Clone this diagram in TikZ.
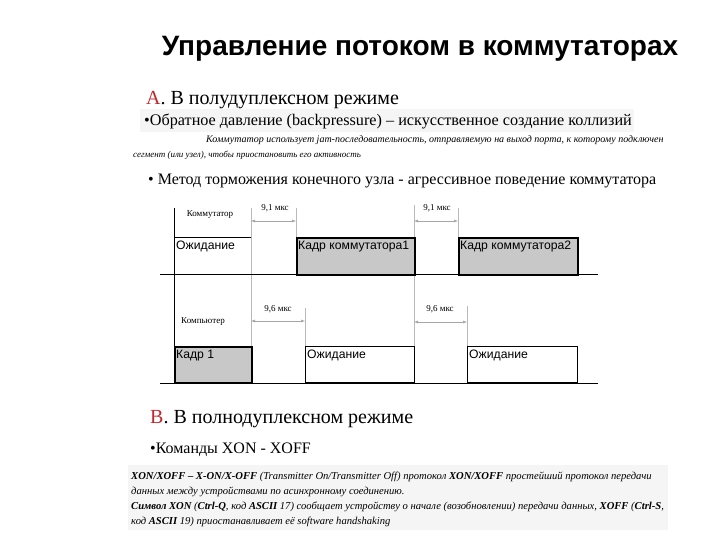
\documentclass[tikz,border=0pt]{standalone}
\usepackage{fontspec}
\setmainfont{Liberation Serif}
\setsansfont{Liberation Sans}
\usetikzlibrary{arrows.meta}
\definecolor{letterred}{RGB}{192,40,45}
\definecolor{framegray}{RGB}{200,200,200}
\definecolor{hilite}{RGB}{245,245,245}
\begin{document}
\begin{tikzpicture}[x=1pt,y=-1pt,
  txt/.style={anchor=base west, inner sep=0pt},
  frm/.style={draw, line width=1.6pt, fill=framegray, anchor=north west, inner sep=0pt},
  waitbox/.style={draw, line width=0.8pt, fill=white, anchor=north west, inner sep=0pt},
  boxlabel/.style={anchor=north west, inner xsep=2pt, inner ysep=0pt, yshift=-4pt, font=\sffamily\fontsize{12.2}{14}\selectfont},
  tickline/.style={draw=gray!55, line width=0.6pt},
  axisline/.style={draw=black, line width=1pt},
  dimarrow/.style={{Latex[length=4pt,width=3pt]}-{Latex[length=4pt,width=3pt]}, draw=gray!70, line width=0.5pt},
  dimlabel/.style={anchor=base, inner sep=0pt, font=\fontsize{9}{10}\selectfont},
  smallit/.style={anchor=base west, inner sep=0pt, font=\itshape\fontsize{9}{10}\selectfont},
  botit/.style={anchor=base west, inner sep=0pt, font=\itshape\fontsize{10.6}{12}\selectfont}]
\useasboundingbox (0,0) rectangle (720,540);

% title
\node[anchor=base, inner sep=0pt, font=\sffamily\bfseries\fontsize{28}{32}\selectfont] (title) at (420,56) {Управление потоком в коммутаторах};

% section A
\node[txt, font=\fontsize{20}{24}\selectfont] (secA) at (146,105) {\textcolor{letterred}{А}. В полудуплексном режиме};
\fill[hilite] (140,109) rectangle (634,132);
\node[txt, font=\fontsize{16.2}{19}\selectfont] (bulA1) at (144,126) {•Обратное давление (backpressure) – искусственное создание коллизий};
\node[smallit, font=\itshape\fontsize{10}{11}\selectfont] (smA1) at (206,143) {Коммутатор использует jam-последовательность, отправляемую на выход порта, к которому подключен};
\node[smallit] (smA2) at (133,158) {сегмент (или узел), чтобы приостановить его активность};
\node[txt, font=\fontsize{16}{19}\selectfont] (bulA2) at (148,185) {• Метод торможения конечного узла - агрессивное поведение коммутатора};

% timing diagram: guide lines
\coordinate (t1top) at (251,208);
\coordinate (t2top) at (296,208);
\coordinate (t3top) at (414,205);
\coordinate (t4top) at (458,208);
\coordinate (u2top) at (305,308);
\coordinate (u4top) at (467,306);
\draw[tickline] (t1top) -- (251,383);
\draw[tickline] (t2top) -- (296,237);
\draw[tickline] (t3top) -- (414,383);
\draw[tickline] (t4top) -- (458,237);
\draw[tickline] (u2top) -- (305,346);
\draw[tickline] (u4top) -- (467,346);

% switch row
\node[frm, minimum width=118pt, minimum height=37pt] (sw1) at (296,237) {};
\node[boxlabel] (sw1t) at (sw1.north west) {Кадр коммутатора1};
\node[frm, minimum width=119pt, minimum height=37pt] (sw2) at (458,237) {};
\node[boxlabel] (sw2t) at (sw2.north west) {Кадр коммутатора2};
\coordinate (w0a) at (174,237);
\coordinate (w0b) at (251,237);
\draw[line width=0.8pt] (w0a) -- (w0b);
\node[boxlabel] (w0t) at (w0a) {Ожидание};
\node[anchor=base, inner sep=0pt, font=\fontsize{9}{10}\selectfont] (lsw) at (210,217) {Коммутатор};

% computer row
\node[frm, minimum width=77pt, minimum height=36pt] (c1) at (174,346) {};
\node[boxlabel] (c1t) at (c1.north west) {Кадр 1};
\node[waitbox, minimum width=109pt, minimum height=36pt] (c2) at (305,346) {};
\node[boxlabel] (c2t) at (c2.north west) {Ожидание};
\node[waitbox, minimum width=110pt, minimum height=36pt] (c3) at (467,346) {};
\node[boxlabel] (c3t) at (c3.north west) {Ожидание};
\node[anchor=base, inner sep=0pt, font=\fontsize{9}{10}\selectfont] (lpc) at (203,323) {Компьютер};

% axes
\coordinate (ax0) at (174,208);
\coordinate (ax1) at (174,383);
\coordinate (h1a) at (160,274);
\coordinate (h1b) at (598,274);
\coordinate (h2a) at (160,383);
\coordinate (h2b) at (598,383);
\draw[axisline] (ax0) -- (ax1);
\draw[axisline] (h1a) -- (h1b);
\draw[axisline] (h2a) -- (h2b);

% dimension arrows
\coordinate (d1a) at (251,221);
\coordinate (d1b) at (296,221);
\coordinate (d2a) at (414,221);
\coordinate (d2b) at (458,221);
\coordinate (e1a) at (251,321);
\coordinate (e1b) at (305,321);
\coordinate (e2a) at (414,322);
\coordinate (e2b) at (467,322);
\draw[dimarrow] (d1a) -- (d1b);
\draw[dimarrow] (d2a) -- (d2b);
\draw[dimarrow] (e1a) -- (e1b);
\draw[dimarrow] (e2a) -- (e2b);
\node[dimlabel] (l1) at (275,211) {9,1 мкс};
\node[dimlabel] (l2) at (437,211) {9,1 мкс};
\node[dimlabel] (l3) at (278,311) {9,6 мкс};
\node[dimlabel] (l4) at (440,311) {9,6 мкс};

% section B
\node[txt, font=\fontsize{20}{24}\selectfont] (secB) at (150,423) {\textcolor{letterred}{В}. В полнодуплексном режиме};
\node[txt, font=\fontsize{16}{19}\selectfont] (bulB1) at (150,453) {•Команды XON - XOFF};
\fill[hilite] (128,465) rectangle (668,530);
\node[botit] (b1) at (131,479) {\textbf{XON/XOFF – X-ON/X-OFF} (Transmitter On/Transmitter Off) протокол \textbf{XON/XOFF} простейший протокол передачи};
\node[botit] (b2) at (131,494) {данных между устройствами по асинхронному соединению.};
\node[botit] (b3) at (131,509) {\textbf{Символ XON} (\textbf{Ctrl-Q}, код \textbf{ASCII} 17) сообщает устройству о начале (возобновлении) передачи данных, \textbf{XOFF} (\textbf{Ctrl-S},};
\node[botit] (b4) at (131,524) {код \textbf{ASCII} 19) приостанавливает её software handshaking};
\end{tikzpicture}
\end{document}
